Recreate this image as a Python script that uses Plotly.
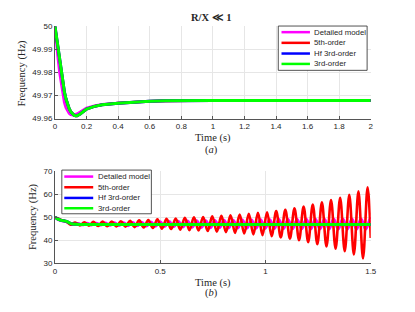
import plotly.graph_objects as go

# ---------------- data: panel (a) ----------------
t_a_green = [0, 0.01, 0.02, 0.03, 0.04, 0.05, 0.06, 0.07, 0.08, 0.09, 0.10, 0.11, 0.12, 0.13,
             0.14, 0.16, 0.18, 0.2, 0.25, 0.3, 0.4, 0.5, 0.6, 0.7, 0.8, 1.0, 1.5, 2.0]
f_a_green = [50.0, 49.995, 49.990, 49.985, 49.980, 49.9755, 49.9715, 49.9685, 49.9660, 49.9643,
             49.9630, 49.9621, 49.9615, 49.9612, 49.9612, 49.9620, 49.9632, 49.9641, 49.9653,
             49.9660, 49.9667, 49.9672, 49.9675, 49.9677, 49.9678, 49.9679, 49.9679, 49.9679]
t_a_detailed = [0, 0.01, 0.02, 0.03, 0.04, 0.05, 0.06, 0.07, 0.08, 0.09, 0.10, 0.11, 0.12,
                0.14, 0.16, 0.18, 0.2, 0.25, 0.3, 0.4, 0.5, 0.6, 0.7, 0.8, 1.0, 1.5, 2.0]
f_a_detailed = [50.0, 49.992, 49.986, 49.980, 49.975, 49.9705, 49.967, 49.9647, 49.9632, 49.9623,
                49.9618, 49.9616, 49.9616, 49.9620, 49.9628, 49.9637, 49.9645, 49.9655, 49.9661,
                49.9667, 49.9672, 49.9675, 49.9677, 49.9678, 49.9679, 49.9679, 49.9679]
t_a_5th = t_a_green
f_a_5th = f_a_green
t_a_hf3 = t_a_green
f_a_hf3 = f_a_green

# ---------------- data: panel (b) ----------------
t_b_green = [0, 0.01, 0.02, 0.03, 0.05, 0.06, 0.075, 0.1, 0.2, 1.5]
f_b_green = [50.0, 49.4, 48.9, 48.6, 48.3, 48.0, 47.2, 46.9, 46.8, 46.8]
t_b_hf3 = t_b_green
f_b_hf3 = f_b_green

t_b_5th = [0, 0.01, 0.02, 0.03, 0.04, 0.05, 0.06, 0.0744,
           0.0961, 0.1178, 0.1395, 0.1612, 0.1829, 0.2046, 0.2263, 0.2480, 0.2697, 0.2914,
           0.3131, 0.3348, 0.3565, 0.3782, 0.3999, 0.4216, 0.4433, 0.4650, 0.4867, 0.5084,
           0.5301, 0.5518, 0.5735, 0.5952, 0.6169, 0.6386, 0.6603, 0.6820, 0.7037, 0.7254,
           0.7471, 0.7688, 0.7905, 0.8122, 0.8339, 0.8556, 0.8773, 0.8990, 0.9207, 0.9424,
           0.9641, 0.9858, 1.0075, 1.0292, 1.0509, 1.0726, 1.0943, 1.1160, 1.1377, 1.1594,
           1.1811, 1.2028, 1.2245, 1.2462, 1.2679, 1.2896, 1.3113, 1.3330, 1.3547, 1.3764,
           1.3981, 1.4198, 1.4415, 1.4632, 1.4849, 1.5]
f_b_5th = [50.0, 49.6, 49.2, 48.8, 48.5, 48.2, 47.7, 46.7,
           47.7, 46.45, 47.8, 46.35, 47.95, 46.2, 48.05, 46.1, 48.15, 46.0,
           48.25, 45.9, 48.4, 45.7, 48.6, 45.5, 48.8, 45.3, 49.05, 45.05,
           49.25, 44.85, 49.45, 44.6, 49.7, 44.4, 49.9, 44.2, 50.1, 44.0,
           50.35, 43.75, 50.55, 43.5, 50.85, 43.2, 51.15, 42.9, 51.45, 42.55,
           51.85, 42.2, 52.15, 41.8, 52.65, 41.25, 53.2, 40.7, 53.85, 40.0,
           54.6, 39.2, 55.5, 38.3, 56.4, 37.3, 57.4, 36.3, 58.4, 35.2,
           59.7, 33.8, 61.2, 32.1, 63.0, 41.0]

t_b_detailed = [0, 0.01, 0.02, 0.03, 0.05, 0.06, 0.075, 0.09,
                0.1086, 0.1303, 0.1520, 0.1737, 0.1954, 0.2171, 0.2388, 0.2605, 0.2822, 0.3039,
                0.3256, 0.3473, 0.3690, 0.3907, 0.4124, 0.4341, 0.4558, 0.4775, 0.4992, 0.5209,
                0.5426, 0.5643, 0.5860, 0.6077, 0.6294, 0.6511, 0.6728, 0.6945, 0.7162, 0.7379,
                0.7596, 0.7813, 0.8030, 0.8247, 0.8464, 0.8681, 0.8898, 0.9115, 0.9332, 0.9549,
                0.9766, 0.9983, 1.0200, 1.0417, 1.0634, 1.0851, 1.1068, 1.1285, 1.1502, 1.1719,
                1.1936, 1.2153, 1.2370, 1.2587, 1.2804, 1.3021, 1.3238, 1.3455, 1.3672, 1.3889,
                1.4106, 1.4323, 1.4540, 1.4757, 1.4974, 1.5]
f_b_detailed = [50.0, 49.3, 48.8, 48.5, 48.2, 47.8, 47.1, 46.9,
                47.30, 46.68, 47.35, 46.62, 47.40, 46.57, 47.47, 46.50, 47.55, 46.40,
                47.63, 46.33, 47.72, 46.24, 47.80, 46.15, 47.90, 46.05, 48.00, 45.95,
                48.10, 45.85, 48.20, 45.75, 48.30, 45.65, 48.40, 45.55, 48.50, 45.45,
                48.58, 45.38, 48.65, 45.32, 48.71, 45.26, 48.77, 45.20, 48.82, 45.15,
                48.87, 45.10, 48.92, 45.06, 48.96, 45.02, 49.00, 44.98, 49.04, 44.94,
                49.08, 44.90, 49.11, 44.88, 49.14, 44.85, 49.16, 44.83, 49.18, 44.81,
                49.20, 44.79, 49.22, 44.77, 49.24, 49.2]

series_names = ["Detailed model", "5th-order", "Hf 3rd-order", "3rd-order"]
series_colors = ["#ff00ff", "#ff0000", "#0000ff", "#00ff00"]

x_ticks_a = [0, 0.2, 0.4, 0.6, 0.8, 1, 1.2, 1.4, 1.6, 1.8, 2]
y_ticks_a = [49.96, 49.97, 49.98, 49.99, 50]
x_ticks_b = [0, 0.5, 1, 1.5]
y_ticks_b = [30, 40, 50, 60, 70]

# ---------------- figure ----------------
W, H = 415, 312
def px(x):
    return x / W
def py(y):
    return 1 - y / H

fig = go.Figure()

panel_a = [(t_a_detailed, f_a_detailed), (t_a_5th, f_a_5th), (t_a_hf3, f_a_hf3), (t_a_green, f_a_green)]
panel_b = [(t_b_detailed, f_b_detailed), (t_b_5th, f_b_5th), (t_b_hf3, f_b_hf3), (t_b_green, f_b_green)]
widths = [3, 2.6, 3, 3]

for (tx, fy), name, col, w in zip(panel_a, series_names, series_colors, widths):
    fig.add_trace(go.Scatter(x=tx, y=fy, mode="lines", name=name, showlegend=False,
                             line=dict(color=col, width=w, shape="linear"),
                             xaxis="x", yaxis="y"))
for (tx, fy), name, col, w in zip(panel_b, series_names, series_colors, widths):
    fig.add_trace(go.Scatter(x=tx, y=fy, mode="lines", name=name, showlegend=False,
                             line=dict(color=col, width=w, shape="spline", smoothing=1.0),
                             xaxis="x2", yaxis="y2"))

axis_common = dict(showgrid=True, gridcolor="#e6e6e6", gridwidth=1, zeroline=False,
                   showline=True, linecolor="#555555", linewidth=1,
                   ticks="inside", ticklen=3, tickcolor="#555555",
                   tickfont=dict(family="Liberation Sans, Arial", size=8, color="#262626"))

xd = [px(54), px(376)]
fig.update_layout(
    width=W, height=H, autosize=False,
    margin=dict(l=0, r=0, t=0, b=0),
    paper_bgcolor="white", plot_bgcolor="white",
    xaxis=dict(domain=xd, range=[0, 2], tickvals=x_ticks_a, anchor="y", **axis_common),
    yaxis=dict(domain=[py(118), py(23)], range=[49.96, 50], tickvals=y_ticks_a, anchor="x", **axis_common),
    xaxis2=dict(domain=xd, range=[0, 1.5], tickvals=x_ticks_b, anchor="y2", **axis_common),
    yaxis2=dict(domain=[py(267), py(172)], range=[30, 70], tickvals=y_ticks_b, anchor="x2", **axis_common),
)

serif = "Liberation Serif, Times New Roman, serif"
sans = "Liberation Sans, Arial, sans-serif"
ann = []
def text(x, y, s, size=10.5, family=serif, angle=0, xanchor="center"):
    ann.append(dict(x=px(x), y=py(y), xref="paper", yref="paper", text=s, showarrow=False,
                    font=dict(family=family, size=size, color="#262626"), textangle=angle,
                    xanchor=xanchor, yanchor="middle"))

text(214, 14, "<b>R/X ≪ 1</b>", size=10.5)
text(215, 138, "Time (s)")
text(214, 150, "(<i>a</i>)")
text(20, 71, "Frequency (Hz)", angle=-90)
text(215, 287, "Time (s)")
text(214, 298, "(<i>b</i>)")
text(31, 219, "Frequency (Hz)", angle=-90)

shapes = []
def legend_box(x0, y0, x1, y1, rows, lx0, lx1, tx):
    shapes.append(dict(type="rect", xref="paper", yref="paper", x0=px(x0), x1=px(x1),
                       y0=py(y1), y1=py(y0), fillcolor="white",
                       line=dict(color="#262626", width=0.8), layer="above"))
    for ry, name, col in zip(rows, series_names, series_colors):
        shapes.append(dict(type="line", xref="paper", yref="paper", x0=px(lx0), x1=px(lx1),
                           y0=py(ry), y1=py(ry), line=dict(color=col, width=2.5), layer="above"))
        text(tx, ry, name, size=7.8, family=sans, xanchor="left")

legend_box(281.7, 22.7, 372.3, 68.3, [29, 40, 51, 61.7], 285, 314, 316.5)
legend_box(61, 171, 152.3, 216, [177.7, 188.7, 199.7, 210.3], 63.5, 93, 95.5)

fig.update_layout(annotations=ann, shapes=shapes)
fig.write_html("out.html", config={"displayModeBar": False},
               post_script="document.body.style.margin='0px';")
